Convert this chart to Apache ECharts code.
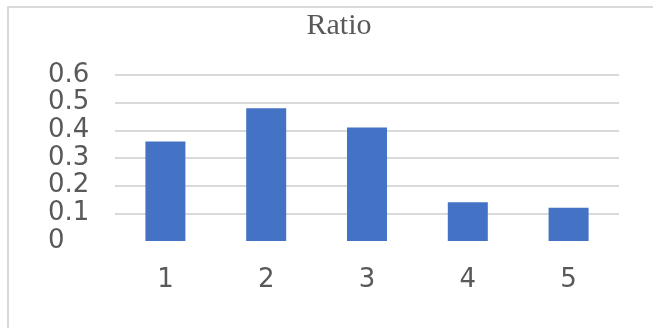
<!DOCTYPE html>
<html>
<head>
<meta charset="utf-8">
<script src="https://cdn.jsdelivr.net/npm/echarts@6/dist/echarts.min.js"></script>
<style>
  html, body { margin: 0; padding: 0; background: #fff; }
  #chart { width: 653px; height: 328px; }
</style>
</head>
<body>
<div id="chart"></div>
<script>
  const categories = ['1', '2', '3', '4', '5']
  const ratio = [0.36, 0.48, 0.41, 0.14, 0.12]
  const yMin = 0
  const yMax = 0.6
  const yStep = 0.1

  const chart = echarts.init(document.getElementById('chart'))
  chart.setOption({
    animation: false,
    backgroundColor: '#fff',
    title: {
      text: 'Ratio',
      left: 334,
      top: 6,
      textAlign: 'center',
      textStyle: {
        fontFamily: 'Liberation Serif',
        fontWeight: 'normal',
        fontSize: 30,
        color: '#595959'
      }
    },
    graphic: [
      {
        type: 'rect',
        silent: true,
        shape: { x: 8, y: 7, width: 700, height: 400 },
        style: { fill: 'none', stroke: '#d9d9d9', lineWidth: 2 }
      }
    ],
    grid: {
      left: 115,
      right: 34,
      top: 75,
      bottom: 87
    },
    xAxis: {
      type: 'category',
      data: categories,
      axisLine: { show: false },
      axisTick: { show: false },
      axisLabel: {
        margin: 26,
        fontFamily: 'DejaVu Sans',
        fontSize: 26,
        color: '#595959'
      }
    },
    yAxis: {
      type: 'value',
      min: yMin,
      max: yMax,
      interval: yStep,
      axisLine: { show: false },
      axisTick: { show: false },
      axisLabel: {
        align: 'left',
        margin: 67,
        fontFamily: 'DejaVu Sans',
        fontSize: 26,
        color: '#595959',
        formatter: v => String(Math.round(v * 10) / 10)
      },
      splitLine: {
        showMinLine: false,
        lineStyle: { color: '#d9d9d9', width: 2 }
      }
    },
    series: [
      {
        name: 'Ratio',
        type: 'bar',
        data: ratio,
        barWidth: 40,
        itemStyle: { color: '#4472c4' }
      }
    ]
  })
</script>
</body>
</html>
